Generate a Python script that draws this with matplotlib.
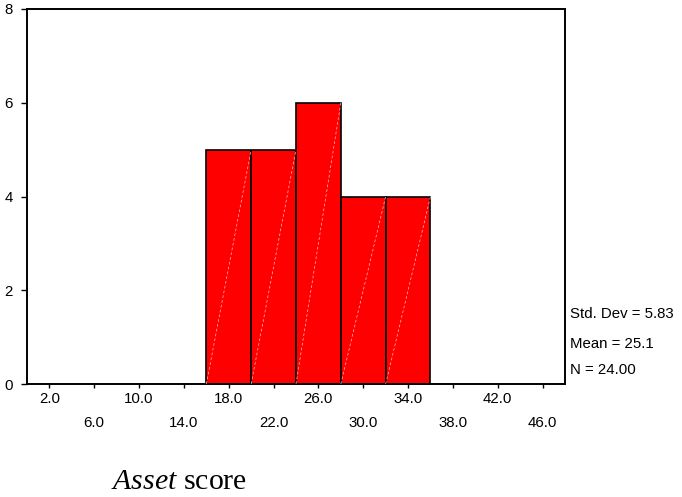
import matplotlib
matplotlib.use("Agg")
import matplotlib.pyplot as plt
import numpy as np

bin_edges = [16, 20, 24, 28, 32, 36]
counts = [5, 5, 6, 4, 4]
tick_values = [2, 6, 10, 14, 18, 22, 26, 30, 34, 38, 42, 46]
tick_labels = ["2.0", "6.0", "10.0", "14.0", "18.0", "22.0", "26.0", "30.0", "34.0", "38.0", "42.0", "46.0"]
y_ticks = [0, 2, 4, 6, 8]
stats_lines = ["Std. Dev = 5.83", "Mean = 25.1", "N = 24.00"]

plt.rcParams['font.family'] = ['Liberation Sans', 'DejaVu Sans']
plt.rcParams['mathtext.fontset'] = 'custom'
plt.rcParams['mathtext.rm'] = 'Liberation Serif'
plt.rcParams['mathtext.it'] = 'Liberation Serif:italic'

fig = plt.figure(figsize=(6.82, 4.97), dpi=100)
ax = fig.add_axes([27/682, 1 - 384/497, (565-27)/682, (384-9)/497])

lefts = np.array(bin_edges[:-1])
widths = np.diff(bin_edges)
ax.bar(lefts, counts, width=widths, align='edge', color='#ff0000', edgecolor='black', linewidth=1.2, zorder=2)
for l, w, c in zip(lefts, widths, counts):
    ax.plot([l, l + w], [0, c], color='#ffc0c0', linewidth=0.5, linestyle=(0, (4, 3)), zorder=3)

ax.set_xlim(0, 48)
ax.set_ylim(0, 8)

ax.set_xticks(tick_values[::2])
ax.set_xticklabels(tick_labels[::2])
ax.set_xticks(tick_values[1::2], minor=True)
ax.set_xticklabels(tick_labels[1::2], minor=True)
ax.tick_params(axis='x', which='major', length=3, width=1, pad=3, labelsize=10.8, direction='out')
ax.tick_params(axis='x', which='minor', length=3, width=1, pad=20, labelsize=10.8, direction='out')
ax.set_yticks(y_ticks)
ax.set_yticklabels([str(v) for v in y_ticks])
ax.tick_params(axis='y', length=4, width=1, pad=6, labelsize=10.8, direction='out')

for s in ax.spines.values():
    s.set_linewidth(1.4)

ys = [314, 344, 370]
for txt, y in zip(stats_lines, ys):
    fig.text(570/682, 1 - y/497, txt, fontsize=10.8, ha='left', va='center')

fig.text(111/682, 1 - 489/497, "$\\mathit{Asset}$ score", fontsize=21.5, ha='left', va='baseline',
         family='Liberation Serif')

fig.savefig("out.png", dpi=100)
